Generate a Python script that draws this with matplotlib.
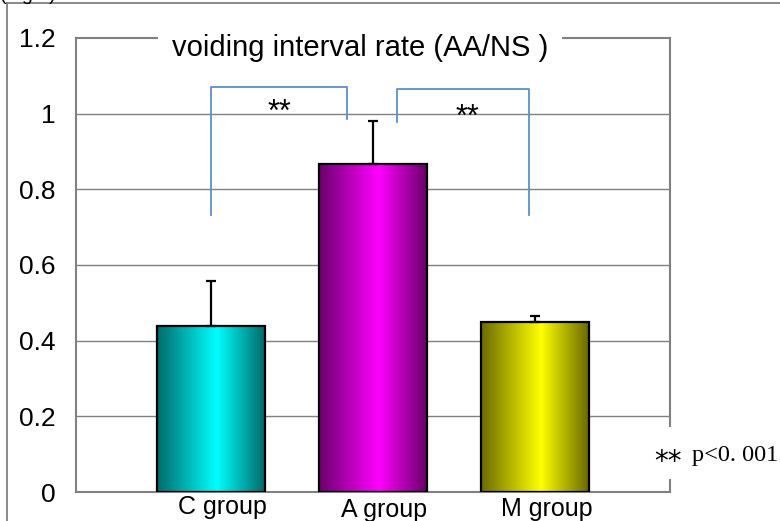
import numpy as np
import matplotlib.pyplot as plt
from matplotlib.lines import Line2D
from matplotlib.patches import Rectangle

# data
groups = ["C group", "A group", "M group"]
means = [0.44, 0.868, 0.450]
errs = [0.117, 0.113, 0.016]
base_colors = [(0.0, 1.0, 1.0), (1.0, 0.0, 1.0), (1.0, 1.0, 0.0)]
yticks = [0, 0.2, 0.4, 0.6, 0.8, 1.0, 1.2]
ytick_labels = ["0", "0.2", "0.4", "0.6", "0.8", "1", "1.2"]
title = "voiding interval rate (AA/NS )"
sig_stars = "**"
sig_note = "p<0. 001"

plt.rcParams["font.family"] = ["Liberation Sans", "DejaVu Sans"]

fig = plt.figure(figsize=(7.8, 5.21), dpi=100)
ax = fig.add_axes([76 / 780, 29 / 521, 594 / 780, 454 / 521])

x = np.arange(len(groups))
width = 0.67
grey = "#808080"

# grid lines behind bars
for t in yticks[1:-1]:
    ax.axhline(t, color=grey, lw=1.0, zorder=1)

# bars with a horizontal shading like the original
shade_pos = [0.0, 0.55, 1.0]
shade_val = [0.42, 1.0, 0.40]
for xi, m, c in zip(x, means, base_colors):
    xs = np.linspace(0, 1, 200)
    k = np.interp(xs, shade_pos, shade_val)
    img = np.array(c)[None, None, :] * k[None, :, None]
    rect = Rectangle((xi - width / 2, 0), width, m, facecolor="none",
                     edgecolor="black", lw=1.6, zorder=4)
    ax.add_patch(rect)
    im = ax.imshow(img, extent=(xi - width / 2, xi + width / 2, 0, m),
                   aspect="auto", zorder=3, interpolation="bilinear")
    im.set_clip_path(rect)

ax.errorbar(x, means, yerr=[np.zeros(3), errs], fmt="none", ecolor="black",
            elinewidth=1.6, capsize=3.5, capthick=1.6, zorder=5)

ax.set_xlim(-0.833, 2.833)
ax.set_ylim(0, 1.2)
ax.set_yticks(yticks)
ax.set_yticklabels(ytick_labels, fontsize=19)
ax.tick_params(axis="y", length=0, pad=15)
ax.set_xticks([])

for s in ax.spines.values():
    s.set_color(grey)
    s.set_linewidth(1.5)

# group labels, slightly off the bar centres as in the original
label_dy = [0.0, -0.008, -0.005]
for xi, g, dy in zip(x, groups, label_dy):
    ax.text(xi + 0.07, -0.04 + dy, g, ha="center", va="center",
            fontsize=18, clip_on=False)

# title sits on the top frame line
ax.text(0.478, 0.978, title, transform=ax.transAxes, ha="center", va="center",
        fontsize=21, zorder=10, clip_on=False,
        bbox=dict(facecolor="white", edgecolor="none", pad=10))

# significance brackets
blue = "#5b8fd0"
ax.plot([0.0, 0.0, 0.84, 0.84], [0.733, 1.071, 1.071, 0.987],
        color=blue, lw=1.3, zorder=6)
ax.plot([1.15, 1.15, 1.96, 1.96], [0.979, 1.066, 1.066, 0.733],
        color=blue, lw=1.3, zorder=6)
ax.text(0.42, 0.981, "**", ha="center", va="baseline", fontsize=22, zorder=7)
ax.text(1.58, 0.967, "**", ha="center", va="baseline", fontsize=22, zorder=7)

# p value note over the right frame line (white patch breaks the frame)
fig.add_artist(Rectangle((660 / 780, 1 - 479 / 521), 20 / 780, 52 / 521,
                         transform=fig.transFigure, facecolor="white",
                         edgecolor="none", zorder=9))
fig.text(654 / 780, 1 - 462 / 521, sig_stars, ha="left", va="center",
         fontsize=20, family=["DejaVu Sans"], zorder=10)
fig.text(692 / 780, 1 - 455 / 521, sig_note, ha="left", va="center",
         fontsize=17.5, family=["Liberation Serif", "DejaVu Serif"], zorder=11)

# outer frame of the figure panel
fig.add_artist(Line2D([7 / 780, 7 / 780], [0, 1 - 3 / 521], color=grey, lw=1.3))
fig.add_artist(Line2D([7 / 780, 1], [1 - 3 / 521, 1 - 3 / 521], color=grey, lw=1.3))
fig.text(0 / 780, 1.0, "(Fig.1)", ha="left", va="baseline", fontsize=14)

fig.savefig("out.png", dpi=100)
